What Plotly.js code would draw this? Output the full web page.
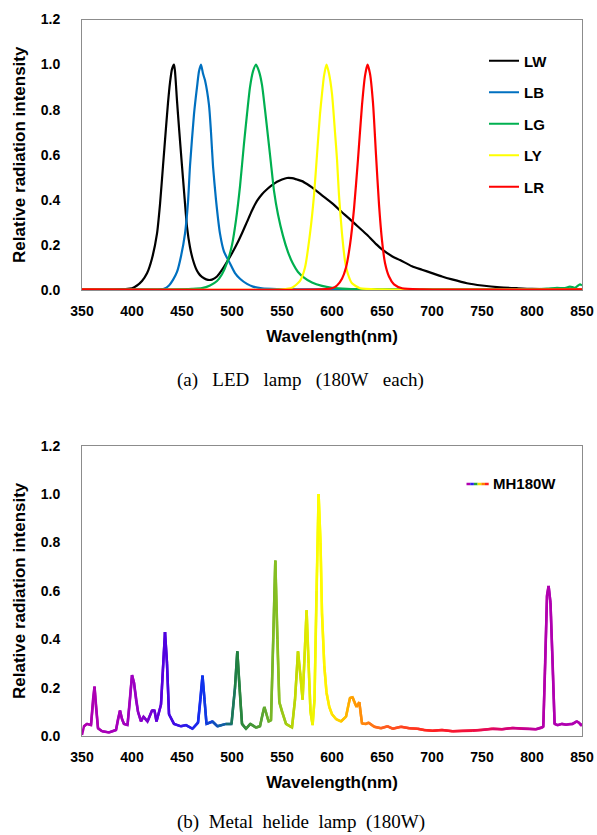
<!DOCTYPE html>
<html>
<head>
<meta charset="utf-8">
<script src="https://cdn.plot.ly/plotly-3.0.1.min.js"></script>
<style>html,body{margin:0;padding:0;background:#fff;}#chart{width:597px;height:835px;}</style>
</head>
<body>
<div id="chart"></div>
<script>
// ---------- (a) LED lamps ----------
const lwWl = [350,380,400,405,410,415,420,425,428,431,434,436,438,440,442,443,445,447,450,452,455,458,461,465,468,472,476,480,485,490,495,500,505,510,515,520,525,530,535,540,545,550,555,560,565,570,575,580,590,600,610,617,625,635,645,650,660,668,680,690,700,710,720,735,750,768,785,800,820,850];
const lwVal = [0.002,0.002,0.008,0.02,0.04,0.074,0.14,0.25,0.38,0.55,0.72,0.83,0.92,0.98,1.0,0.97,0.84,0.72,0.55,0.44,0.28,0.19,0.133,0.085,0.066,0.052,0.045,0.046,0.06,0.089,0.125,0.163,0.205,0.252,0.302,0.353,0.395,0.425,0.447,0.465,0.48,0.49,0.497,0.496,0.49,0.483,0.47,0.455,0.42,0.385,0.345,0.318,0.285,0.245,0.2,0.18,0.15,0.133,0.105,0.09,0.075,0.06,0.047,0.03,0.02,0.012,0.008,0.005,0.004,0.003];

const lbWl = [350,425,432,437,441,445,449,453,456,458,462,465,467,469,471,473,477,479,481,484,488,492,498,503,508,515,521,530,545,580,850];
const lbVal = [0.002,0.002,0.005,0.02,0.045,0.08,0.15,0.25,0.39,0.55,0.78,0.9,0.97,1.0,0.96,0.93,0.82,0.7,0.55,0.4,0.25,0.17,0.118,0.075,0.05,0.027,0.015,0.007,0.004,0.003,0.003];

const lgWl = [350,440,460,470,478,485,490,495,500,504,508,512,515,518,521,524,527,530,533,536,539,542,546,551,556,561,566,572,580,590,600,615,640,800,815,825,832,838,843,848,850];
const lgVal = [0.002,0.003,0.005,0.008,0.02,0.04,0.07,0.12,0.2,0.31,0.46,0.65,0.78,0.9,0.97,1.0,0.97,0.91,0.8,0.68,0.56,0.44,0.335,0.24,0.168,0.116,0.08,0.055,0.033,0.018,0.01,0.005,0.003,0.003,0.006,0.01,0.008,0.015,0.01,0.025,0.02];

const lyWl = [350,550,560,568,573,578,582,585,588,590,592,594.5,597,600,603,605,607,610,613,616,620,628,650,850];
const lyVal = [0.002,0.003,0.01,0.04,0.1,0.25,0.42,0.6,0.78,0.87,0.95,1.0,0.96,0.87,0.7,0.58,0.42,0.25,0.13,0.07,0.03,0.008,0.003,0.003];

const lrWl = [350,590,600,605,610,614,618,622,626,630,633,635.5,638,641,644,647,650,653,657,662,670,690,850];
const lrVal = [0.003,0.003,0.008,0.02,0.05,0.1,0.2,0.36,0.58,0.82,0.95,1.0,0.96,0.83,0.6,0.38,0.22,0.12,0.06,0.025,0.008,0.003,0.003];

const ledNames = ["LW","LB","LG","LY","LR"];
const ledColors = ["#000000","#0070C0","#00B050","#FFFF00","#FF0000"];

// ---------- (b) Metal halide lamp ----------
const mhWl = [350,352,355,359,361,362.5,364,366,370,377,384,386,388,390,392,395.5,398,400,402,404,406,409,411.5,415.5,420,422.5,424.5,429,431,433,435,437,442,449,454,460.5,466,468.5,470.5,472.5,474.5,480.5,485.5,494,499.5,503,505.3,507.5,510,514,518.3,524,528,530.5,532.3,534.5,536.6,539,541.3,543.3,545.3,547.3,550,554,560,563,566,568.5,570.6,572.8,574.6,576.5,578.5,580.6,582.5,584.5,586.6,588.5,590,592.3,594.5,597.3,600,604,609,614,616.5,618,620.6,622.3,624.6,627.3,628.8,630,634,636.6,642.3,649,655.6,660.6,669,677.3,685.6,692,700.6,710,720.6,730,740.6,750,760.6,770,780.6,790,797.3,804,809,811.3,813.3,815,816.6,818.5,820.6,822.6,825.6,830,834,838,840.6,844.6,847,849,850];
const mhVal = [0.004,0.04,0.05,0.045,0.15,0.204,0.12,0.032,0.02,0.015,0.025,0.07,0.105,0.07,0.05,0.045,0.15,0.252,0.22,0.15,0.1,0.06,0.08,0.06,0.105,0.105,0.06,0.13,0.28,0.43,0.3,0.09,0.05,0.04,0.045,0.03,0.055,0.15,0.25,0.15,0.05,0.06,0.04,0.05,0.05,0.2,0.35,0.2,0.05,0.03,0.05,0.035,0.04,0.09,0.12,0.09,0.06,0.065,0.4,0.725,0.4,0.14,0.1,0.05,0.035,0.15,0.35,0.25,0.15,0.35,0.52,0.3,0.1,0.045,0.15,0.6,1.0,0.8,0.507,0.29,0.18,0.12,0.09,0.07,0.06,0.08,0.13,0.157,0.16,0.14,0.12,0.14,0.09,0.052,0.05,0.055,0.038,0.032,0.04,0.03,0.038,0.032,0.03,0.025,0.022,0.025,0.02,0.022,0.022,0.025,0.03,0.028,0.033,0.03,0.03,0.028,0.033,0.038,0.31,0.58,0.62,0.55,0.31,0.05,0.045,0.05,0.047,0.05,0.05,0.06,0.055,0.045,0.05];

// wavelength -> colour stops used to tint the MH line
const colorStopWl = [350,400,433,470,490,505,532,545,566,575,587,605,620,650,700,740,780,816,850];
const colorStopHex = ["#B000B0","#A000C0","#5000E0","#1030F0","#1060A0","#208040","#60A830","#88C020","#C8DC00","#E0EA00","#FFFF00","#FFD800","#FFA000","#FF6020","#FF2020","#F01040","#D00080","#B000B0","#B000B0"];

const xTicks = [350,400,450,500,550,600,650,700,750,800,850];
const yTicks = [0,0.2,0.4,0.6,0.8,1.0,1.2];

// ---------- helpers ----------
function hexToRgb(h){return [parseInt(h.substr(1,2),16),parseInt(h.substr(3,2),16),parseInt(h.substr(5,2),16)];}
function colorAt(w){
  if(w<=colorStopWl[0]) return colorStopHex[0];
  for(let i=0;i<colorStopWl.length-1;i++){
    if(w<=colorStopWl[i+1]){
      const t=(w-colorStopWl[i])/(colorStopWl[i+1]-colorStopWl[i]);
      const a=hexToRgb(colorStopHex[i]), b=hexToRgb(colorStopHex[i+1]);
      const c=a.map((v,k)=>Math.round(v+(b[k]-v)*t));
      return "rgb("+c.join(",")+")";
    }
  }
  return colorStopHex[colorStopHex.length-1];
}

const W=597,H=835;
const px=(x)=>x/W, py=(y)=>1-y/H;

const FONT="Liberation Sans, Arial, sans-serif";
const SERIF="Liberation Serif, Times New Roman, serif";

const ledX=[lwWl,lbWl,lgWl,lyWl,lrWl], ledY=[lwVal,lbVal,lgVal,lyVal,lrVal];
const traces=[];
for(let i=0;i<5;i++){
  traces.push({x:ledX[i],y:ledY[i],name:ledNames[i],type:"scatter",mode:"lines",
    line:{color:ledColors[i],width:2.2,shape:"spline",smoothing:0.6},
    xaxis:"x",yaxis:"y",legendgroup:"g"+i,hoverinfo:"x+y+name"});
}
for(let k=0;k<mhWl.length-1;k++){
  const end=Math.min(k+3,mhWl.length);
  const mid=(mhWl[k]+mhWl[k+1])/2;
  traces.push({x:mhWl.slice(k,end),y:mhVal.slice(k,end),type:"scatter",mode:"lines",
    line:{color:colorAt(mid),width:2.5},xaxis:"x2",yaxis:"y2",showlegend:false,hoverinfo:"skip",name:"MH180W"});
}

const axisLine={showline:true,mirror:true,linecolor:"#8c8c8c",linewidth:1,showgrid:false,zeroline:false,ticks:"",automargin:false,
  tickfont:{family:FONT,size:14,color:"#000",weight:"bold"}};
function xa(anchor,dom){return Object.assign({},axisLine,{domain:dom,anchor:anchor,range:[350,850],tickvals:xTicks,ticktext:xTicks.map(String),ticklabelstandoff:8,
  title:{text:"Wavelength(nm)",font:{family:FONT,size:17,color:"#000",weight:"bold"},standoff:12}});}
function ya(anchor,dom){return Object.assign({},axisLine,{domain:dom,anchor:anchor,range:[0,1.2],tickvals:yTicks,ticktext:yTicks.map(v=>v.toFixed(1)),ticklabelstandoff:18,
  title:{text:"Relative radiation intensity",font:{family:FONT,size:17,color:"#000",weight:"bold"},standoff:10}});}

const xDom=[px(82),px(582)];
const sp="\u00a0\u00a0\u00a0";
const layout={
  width:W,height:H,margin:{l:0,r:0,t:0,b:0},paper_bgcolor:"#fff",plot_bgcolor:"#fff",
  xaxis:xa("y",xDom), yaxis:ya("x",[py(290),py(19.5)]),
  xaxis2:xa("y2",xDom), yaxis2:ya("x2",[py(736),py(445.7)]),
  showlegend:true,
  legend:{x:px(484),y:py(44.5),xanchor:"left",yanchor:"top",bgcolor:"rgba(0,0,0,0)",font:{family:FONT,size:15,color:"#000",weight:"bold"},tracegroupgap:9,traceorder:"grouped"},
  annotations:[
    {text:"(a)"+sp+"LED"+sp+"lamp"+sp+"(180W"+sp+"each)",xref:"paper",yref:"paper",x:px(300),y:py(380),xanchor:"center",yanchor:"middle",showarrow:false,font:{family:SERIF,size:19,color:"#000"}},
    {text:"(b)\u00a0\u00a0Metal\u00a0\u00a0helide\u00a0\u00a0lamp\u00a0\u00a0(180W)",xref:"paper",yref:"paper",x:px(301),y:py(822),xanchor:"center",yanchor:"middle",showarrow:false,font:{family:SERIF,size:19,color:"#000"}},
    {text:"MH180W",xref:"paper",yref:"paper",x:px(491),y:py(483.5),xanchor:"left",yanchor:"middle",showarrow:false,font:{family:FONT,size:15,color:"#000",weight:"bold"}}
  ],
  shapes:[]
};
// gradient legend swatch for MH180W
const swatch=["#B000B0","#3020F0","#20A040","#F0E000","#FF8000","#FF2020"];
for(let i=0;i<swatch.length;i++){
  const x0=466.5+i*3.7;
  layout.shapes.push({type:"line",xref:"paper",yref:"paper",x0:px(x0),x1:px(x0+3.7),y0:py(484),y1:py(484),line:{color:swatch[i],width:2.5}});
}
Plotly.newPlot("chart",traces,layout,{staticPlot:true});
</script>
</body>
</html>
